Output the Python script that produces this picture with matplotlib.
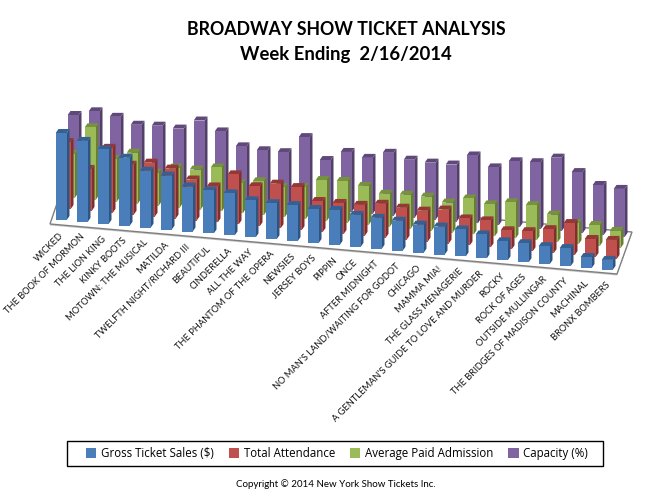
import matplotlib
matplotlib.use("Agg")
import matplotlib.pyplot as plt
from matplotlib.patches import Patch, Polygon, Rectangle

shows = ["WICKED", "THE BOOK OF MORMON", "THE LION KING", "KINKY BOOTS", "MOTOWN: THE MUSICAL",
         "MATILDA", "TWELFTH NIGHT/RICHARD III", "BEAUTIFUL", "CINDERELLA", "ALL THE WAY",
         "THE PHANTOM OF THE OPERA", "NEWSIES", "JERSEY BOYS", "PIPPIN", "ONCE", "AFTER MIDNIGHT",
         "NO MAN'S LAND/WAITING FOR GODOT", "CHICAGO", "MAMMA MIA!", "THE GLASS MENAGERIE",
         "A GENTLEMAN'S GUIDE TO LOVE AND MURDER", "ROCKY", "ROCK OF AGES", "OUTSIDE MULLINGAR",
         "THE BRIDGES OF MADISON COUNTY", "MACHINAL", "BRONX BOMBERS"]

# bar heights (no axis in the original, so arbitrary units)
gross = [87, 81, 74.5, 68, 57, 54, 45, 43, 42, 37, 36, 36, 34, 35, 32, 31, 30, 28, 28, 27, 24, 19, 19, 18, 18, 11, 10]
attendance = [67, 42, 65, 50, 54, 50, 41, 36, 50, 40, 44.5, 43, 31, 31, 31, 34, 32, 31, 34, 27, 27, 19, 20, 24, 32, 18, 19]
avg_paid = [44, 72.6, 43, 51, 33, 40, 40, 44, 30, 34, 30, 32, 41, 42, 39, 33, 34, 34, 30, 36, 32, 36, 35, 27.5, 21, 21, 17]
capacity = [72, 77.6, 74, 68, 69, 68, 78, 69, 56, 54, 54, 71, 50, 60, 56, 63, 58, 57, 57, 68, 58, 66, 67, 73.5, 61, 50, 48]

series = [("Gross Ticket Sales ($)", gross, "#4a7ebb", "#376092", "#2f5480"),
          ("Total Attendance", attendance, "#c0504d", "#953735", "#7f2f2d"),
          ("Average Paid Admission", avg_paid, "#9bbb59", "#76923c", "#667f33"),
          ("Capacity (%)", capacity, "#8064a2", "#5f497a", "#524068")]


# oblique projection of (show, series, height) on to the page
def proj(i, j, h=0):
    return 55.7 + 21.0 * i + 4.0 * j, 220 + 1.92 * i - 11.0 * j - h


fig = plt.figure(figsize=(6.49, 5.01), dpi=100)
ax = fig.add_axes([0, 0, 1, 1])
ax.set_xlim(0, 649)
ax.set_ylim(501, 0)
ax.axis("off")

# floor
ax.add_patch(Polygon([(50, 225.5), (617, 275.5), (632, 233.5), (632, 232), (617, 274), (50, 224)],
                     fc="#c8c8c8", ec="none", zorder=1))
ax.add_patch(Polygon([(50, 224), (65, 180), (632, 232), (617, 274)], fc="white", ec="#7f7f7f", lw=1, zorder=1))

w = 11  # bar width
dx, dy = 2.8, -4  # depth of a bar
for j in range(3, -1, -1):
    name, vals, front, top, side = series[j]
    for i, v in enumerate(vals):
        x, y = proj(i, j)
        yt = y - v
        z = 10 + (3 - j)
        ax.add_patch(Polygon([(x + w, y), (x + w + dx, y + dy), (x + w + dx, yt + dy), (x + w, yt)],
                             fc=side, ec="none", zorder=z))
        ax.add_patch(Polygon([(x, yt), (x + w, yt), (x + w + dx, yt + dy), (x + dx, yt + dy)],
                             fc=top, ec="none", zorder=z))
        ax.add_patch(Polygon([(x, y), (x + w, y), (x + w, yt), (x, yt)], fc=front, ec="none", zorder=z))

for i, s in enumerate(shows):
    x, y = proj(i, 0)
    ax.text(x + 3.5, y + 10.5, s, rotation=45, rotation_mode="anchor", ha="right", va="top",
            fontsize=6.65, family="Lato", color="#111111")

ax.text(346, 29, "BROADWAY SHOW TICKET ANALYSIS", ha="center", va="center", fontsize=12.8,
        fontweight="bold", family="Lato")
ax.text(346, 54, "Week Ending  2/16/2014", ha="center", va="center", fontsize=13.3,
        fontweight="bold", family="Lato")
ax.text(336, 484, "Copyright © 2014 New York Show Tickets Inc.", ha="center", va="center",
        fontsize=7, family="Lato")

ax.add_patch(Rectangle((67, 441), 536, 25, fc="white", ec="black", lw=1, zorder=20))
handles = [Patch(fc=s[2], ec="none", label=s[0]) for s in series]
leg = fig.legend(handles=handles, ncol=4, loc="center", bbox_to_anchor=(337 / 649, 1 - 453.5 / 501),
                 prop={"family": "Open Sans", "size": 8.3}, frameon=False,
                 handlelength=0.9, handleheight=0.9, handletextpad=0.4, columnspacing=1.3, borderaxespad=0)

fig.savefig("out.png", dpi=100)
